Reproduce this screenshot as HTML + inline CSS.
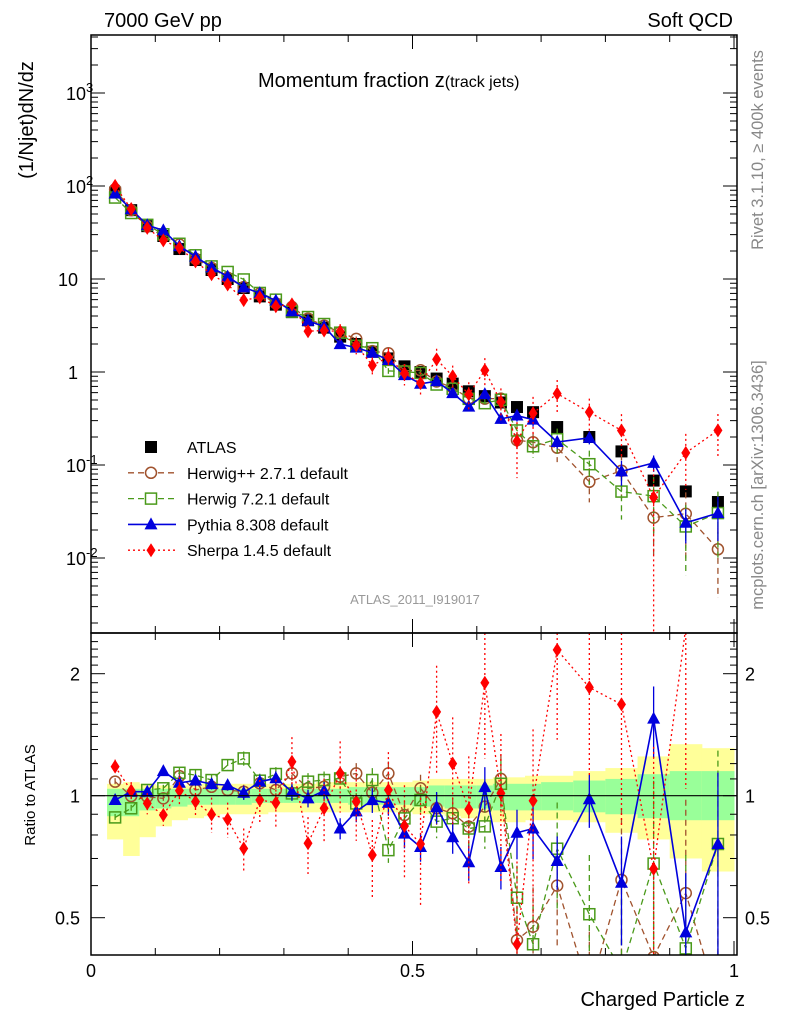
<!DOCTYPE html>
<html><head><meta charset="utf-8">
<style>
body{margin:0;background:#fff;}
svg{display:block;font-family:"Liberation Sans",Arial,sans-serif;}
</style></head>
<body>
<svg id="chart" width="786" height="1024" viewBox="0 0 786 1024" xmlns="http://www.w3.org/2000/svg">
<rect x="0" y="0" width="786" height="1024" fill="#fff"/>
<g id="bands"></g>
<g id="ticks"></g>
<g id="series"></g>
<rect x="91" y="35" width="646" height="598" fill="none" stroke="#000" stroke-width="1.5"/>
<rect x="91" y="633" width="646" height="322" fill="none" stroke="#000" stroke-width="1.5"/>
<line x1="91" y1="795.7" x2="737" y2="795.7" stroke="#000" stroke-width="1.2"/>
<text x="104" y="27" font-size="20">7000 GeV pp</text>
<text x="733" y="27" font-size="20" text-anchor="end">Soft QCD</text>
<text x="258" y="87" font-size="20">Momentum fraction z<tspan font-size="16">(track jets)</tspan></text>
<text transform="translate(33,120) rotate(-90)" font-size="20" text-anchor="middle">(1/Njet)dN/dz</text>
<text transform="translate(35,795) rotate(-90)" font-size="15" text-anchor="middle">Ratio to ATLAS</text>
<text x="745" y="1006" font-size="20" text-anchor="end">Charged Particle z</text>
<text transform="translate(763,150) rotate(-90)" font-size="16.5" fill="#888" text-anchor="middle">Rivet 3.1.10, ≥ 400k events</text>
<text transform="translate(763,485) rotate(-90)" font-size="16.5" fill="#888" text-anchor="middle">mcplots.cern.ch [arXiv:1306.3436]</text>
<text x="415" y="604" font-size="13" fill="#999" text-anchor="middle">ATLAS_2011_I919017</text>
<g id="legend"></g>
<script>
const zCenters=[0.0375,0.0625,0.0875,0.1125,0.1375,0.1625,0.1875,0.2125,0.2375,0.2625,0.2875,0.3125,0.3375,0.3625,0.3875,0.4125,0.4375,0.4625,0.4875,0.5125,0.5375,0.5625,0.5875,0.6125,0.6375,0.6625,0.6875,0.725,0.775,0.825,0.875,0.925,0.975];
const zHalf=[0.0125,0.0125,0.0125,0.0125,0.0125,0.0125,0.0125,0.0125,0.0125,0.0125,0.0125,0.0125,0.0125,0.0125,0.0125,0.0125,0.0125,0.0125,0.0125,0.0125,0.0125,0.0125,0.0125,0.0125,0.0125,0.0125,0.0125,0.025,0.025,0.025,0.025,0.025,0.025];
const atlas=[85,55,37,29,21,16,12.5,10,8,6.5,5.3,4.4,3.6,3.0,2.4,2.0,1.65,1.4,1.15,1.0,0.85,0.75,0.62,0.55,0.47,0.42,0.37,0.256,0.2,0.14,0.068,0.052,0.04];
const ratioHerwigpp=[1.083,0.998,0.994,0.985,1.118,1.033,1.052,1.033,1.023,1.073,1.033,1.135,1.043,1.052,1.114,1.135,1.017,1.135,0.896,1.043,0.931,0.905,0.839,0.94,1.10,0.44,0.475,0.60,0.33,0.62,0.40,0.575,0.31];
const ratioHerwig7=[0.884,0.931,1.033,1.043,1.139,1.124,1.093,1.19,1.236,1.089,1.131,1.013,1.083,1.093,1.103,0.957,1.093,0.734,0.879,0.976,0.863,0.88,0.83,0.84,1.07,0.56,0.43,0.74,0.51,0.37,0.68,0.42,0.76];
const ratioPythia=[0.976,1.023,1.023,1.15,1.076,1.09,1.068,1.062,1.017,1.083,1.104,1.023,0.985,1.029,0.83,0.915,0.975,0.96,0.806,0.747,0.937,0.79,0.685,1.05,0.667,0.81,0.83,0.69,0.98,0.61,1.55,0.46,0.76];
const ratioSherpa=[1.18,1.029,0.957,0.896,1.029,0.967,0.899,0.874,0.741,0.976,0.961,1.213,0.763,0.931,1.135,0.967,0.714,1.033,0.842,0.76,1.61,1.20,0.926,1.90,1.014,0.43,0.972,2.29,1.85,1.68,0.66,2.6,5.9];
const relErrHerwigpp=[0.02,0.02,0.02,0.02,0.03,0.03,0.03,0.03,0.04,0.04,0.04,0.05,0.05,0.05,0.06,0.06,0.07,0.07,0.08,0.08,0.09,0.09,0.1,0.12,0.15,0.2,0.25,0.3,0.4,0.5,0.6,0.7,0.7];
const relErrHerwig7=[0.02,0.02,0.02,0.02,0.03,0.03,0.03,0.03,0.04,0.04,0.04,0.05,0.05,0.05,0.06,0.06,0.07,0.07,0.08,0.08,0.09,0.09,0.1,0.12,0.15,0.2,0.25,0.3,0.4,0.5,0.6,0.7,0.7];
const relErrPythia=[0.02,0.02,0.02,0.02,0.03,0.03,0.03,0.03,0.04,0.04,0.04,0.05,0.05,0.05,0.06,0.06,0.07,0.07,0.08,0.08,0.09,0.09,0.1,0.12,0.12,0.14,0.16,0.15,0.15,0.3,0.2,0.4,0.5];
const relErrSherpa=[0.04,0.05,0.06,0.06,0.08,0.08,0.1,0.1,0.12,0.12,0.14,0.15,0.16,0.18,0.2,0.2,0.22,0.24,0.26,0.3,0.3,0.3,0.35,0.35,0.4,0.6,0.5,0.4,0.4,0.5,1.0,0.6,0.5];
const bandYellowLo=[0.78,0.71,0.79,0.84,0.87,0.88,0.89,0.9,0.9,0.9,0.91,0.91,0.91,0.91,0.91,0.91,0.91,0.91,0.91,0.9,0.9,0.89,0.88,0.87,0.86,0.86,0.87,0.87,0.86,0.81,0.78,0.70,0.65];
const bandYellowHi=[1.07,1.08,1.07,1.06,1.06,1.07,1.07,1.07,1.07,1.07,1.07,1.07,1.07,1.08,1.08,1.08,1.08,1.08,1.08,1.09,1.10,1.10,1.10,1.10,1.11,1.11,1.12,1.12,1.15,1.17,1.25,1.34,1.31];
const bandGreenLo=[0.89,0.89,0.92,0.93,0.94,0.95,0.95,0.95,0.95,0.96,0.96,0.96,0.96,0.96,0.96,0.95,0.95,0.95,0.95,0.94,0.94,0.93,0.93,0.93,0.92,0.92,0.92,0.92,0.91,0.90,0.88,0.87,0.87];
const bandGreenHi=[1.04,1.04,1.04,1.04,1.04,1.04,1.04,1.04,1.04,1.04,1.04,1.04,1.04,1.04,1.04,1.05,1.05,1.05,1.05,1.05,1.06,1.06,1.06,1.06,1.07,1.07,1.07,1.08,1.09,1.10,1.13,1.15,1.15];
const yTickLabels=["10","10","10","1","10","10"];
const yTickExps=[3,2,1,0,-1,-2];
const ratioTicks=[0.5,1,2];
const xTicks=[0,0.5,1];

const NS="http://www.w3.org/2000/svg";
const X=z=>91+643*z;
const Y=v=>372-93*Math.log10(v);
const R=r=>795.7-122*Math.log2(r);
const clampM=y=>Math.max(35,Math.min(633,y));
const clampR=y=>Math.max(633,Math.min(955,y));
function mk(tag,attrs,parent){const e=document.createElementNS(NS,tag);for(const k in attrs)e.setAttribute(k,attrs[k]);parent.appendChild(e);return e;}

const bands=document.getElementById('bands');
zCenters.forEach((z,i)=>{
  const x0=X(z-zHalf[i]),x1=X(z+zHalf[i]);
  const yb=mk('rect',{x:x0,y:R(bandYellowHi[i]),width:x1-x0+0.5,height:R(bandYellowLo[i])-R(bandYellowHi[i]),fill:'#ffff99'},bands);
  
  
  const gb=mk('rect',{x:x0,y:R(bandGreenHi[i]),width:x1-x0+0.5,height:R(bandGreenLo[i])-R(bandGreenHi[i]),fill:'#99ff99'},bands);
  
  
});

const tk=document.getElementById('ticks');
for(let e=-3;e<=3;e++){for(let m=1;m<10;m++){const v=m*Math.pow(10,e);const y=Y(v);if(y<35||y>633)continue;const L=m==1?14:7;
 mk('line',{x1:91,y1:y,x2:91+L,y2:y,stroke:'#000','stroke-width':1},tk);mk('line',{x1:737,y1:y,x2:737-L,y2:y,stroke:'#000','stroke-width':1},tk);}}
yTickExps.forEach((e,i)=>{const y=Y(Math.pow(10,e));
 const t=mk('text',{x:e===0?78:(e===1?78:66),y:y+7,'font-size':18,'text-anchor':e<=1&&e>=0?'end':'start'},tk);
 
 
 if(e===0){t.textContent='1';}else if(e===1){t.textContent='10';}else{t.textContent=yTickLabels[i];const s=mk('tspan',{dy:-8,'font-size':13},t);s.textContent=String(e);}
});
for(let r=0.4;r<=2.5;r+=0.1){const y=R(r);if(y<633||y>955)continue;const L=Math.abs(r-1)<1e-6||Math.abs(r-2)<1e-6||Math.abs(r-0.5)<1e-6?14:7;
 mk('line',{x1:91,y1:y,x2:91+L,y2:y,stroke:'#000'},tk);mk('line',{x1:737,y1:y,x2:737-L,y2:y,stroke:'#000'},tk);}
ratioTicks.forEach(r=>{const y=R(r);
 const a=mk('text',{x:80,y:y+7,'font-size':18,'text-anchor':'end'},tk);a.textContent=String(r);
 
 
 const b=mk('text',{x:745,y:y+7,'font-size':18},tk);b.textContent=String(r);
 
 });
for(let k=0;k<=10;k++){const z=k/10;const x=X(z);const L=k%5===0?14:7;
 mk('line',{x1:x,y1:633,x2:x,y2:633-L,stroke:'#000'},tk);mk('line',{x1:x,y1:35,x2:x,y2:35+L,stroke:'#000'},tk);
 mk('line',{x1:x,y1:955,x2:x,y2:955-L,stroke:'#000'},tk);mk('line',{x1:x,y1:633,x2:x,y2:633+L,stroke:'#000'},tk);}
xTicks.forEach(z=>{const t=mk('text',{x:X(z),y:977,'font-size':18,'text-anchor':'middle'},tk);t.textContent=String(z);
 
 });

const S=document.getElementById('series');
function marker(g,type,x,y,col){
 if(type==='circle')mk('circle',{cx:x,cy:y,r:5.5,fill:'none',stroke:col,'stroke-width':1.5},g);
 else if(type==='square')mk('rect',{x:x-5.5,y:y-5.5,width:11,height:11,fill:'none',stroke:col,'stroke-width':1.5},g);
 else if(type==='tri')mk('polygon',{points:`${x},${y-7} ${x-6.5},${y+5} ${x+6.5},${y+5}`,fill:col},g);
 else if(type==='diamond')mk('polygon',{points:`${x},${y-7} ${x-4.5},${y} ${x},${y+7} ${x+4.5},${y}`,fill:col},g);
 else mk('rect',{x:x-6,y:y-6,width:12,height:12,fill:col},g);
}
const mcs=[
 {name:'herwigpp',ratio:ratioHerwigpp,err:relErrHerwigpp,col:'#a0522d',dash:'6,4',type:'circle',w:1.3},
 {name:'herwig7',ratio:ratioHerwig7,err:relErrHerwig7,col:'#4a9a1a',dash:'6,4',type:'square',w:1.3},
 {name:'pythia',ratio:ratioPythia,err:relErrPythia,col:'#0000dd',dash:'',type:'tri',w:1.6},
 {name:'sherpa',ratio:ratioSherpa,err:relErrSherpa,col:'#ff0000',dash:'2,3',type:'diamond',w:1.3}
];
const ga=mk('g',{},S);


zCenters.forEach((z,i)=>marker(ga,'sq',X(z),Y(atlas[i]),'#000'));
mcs.forEach(s=>{
 const g=mk('g',{},S);
 
 
 const mainPts=zCenters.map((z,i)=>[X(z),Y(atlas[i]*s.ratio[i])]);
 const ratPts=zCenters.map((z,i)=>[X(z),R(s.ratio[i])]);
 const clipM=mk('g',{'clip-path':'url(#clipMain)'},g);
 const clipR=mk('g',{'clip-path':'url(#clipRatio)'},g);
 mk('polyline',{points:mainPts.map(p=>p.join(',')).join(' '),fill:'none',stroke:s.col,'stroke-width':s.w,'stroke-dasharray':s.dash},clipM);
 mk('polyline',{points:ratPts.map(p=>p.join(',')).join(' '),fill:'none',stroke:s.col,'stroke-width':s.w,'stroke-dasharray':s.dash},clipR);
 zCenters.forEach((z,i)=>{
  const v=atlas[i]*s.ratio[i],e=s.err[i],x=X(z);
  const lo=Math.max(v*(1-e),1e-4),hi=v*(1+e);
  mk('line',{x1:x,y1:clampM(Y(hi)),x2:x,y2:clampM(Y(lo)),stroke:s.col,'stroke-width':1.3,'stroke-dasharray':s.dash},clipM);
  const rl=Math.max(s.ratio[i]*(1-e),0.01),rh=s.ratio[i]*(1+e);
  mk('line',{x1:x,y1:clampR(R(rh)),x2:x,y2:clampR(R(rl)),stroke:s.col,'stroke-width':1.3,'stroke-dasharray':s.dash},clipR);
  marker(clipM,s.type,x,Y(v),s.col);
  marker(clipR,s.type,x,R(s.ratio[i]),s.col);
 });
});
const defs=mk('defs',{},document.getElementById('chart'));
const c1=mk('clipPath',{id:'clipMain'},defs);mk('rect',{x:91,y:35,width:646,height:598},c1);
const c2=mk('clipPath',{id:'clipRatio'},defs);mk('rect',{x:91,y:633,width:646,height:322},c2);

const lg=document.getElementById('legend');
const entries=[['ATLAS',null],['Herwig++ 2.7.1 default',mcs[0]],['Herwig 7.2.1 default',mcs[1]],['Pythia 8.308 default',mcs[2]],['Sherpa 1.4.5 default',mcs[3]]];
entries.forEach((en,i)=>{
 const y=447+i*25.8;
 const g=mk('g',{},lg);
 
 
 if(en[1]){mk('line',{x1:128,y1:y,x2:176,y2:y,stroke:en[1].col,'stroke-width':en[1].w,'stroke-dasharray':en[1].dash},g);
  if(en[1].type==='circle'||en[1].type==='square')mk('rect',{x:146,y:y-5,width:10,height:10,fill:'#fff'},g);
  marker(g,en[1].type,151,y,en[1].col);}
 else marker(g,'sq',151,y,'#000');
 const t=mk('text',{x:187,y:y+6,'font-size':16},g);t.textContent=en[0];
});
</script>
</svg>
</body></html>
